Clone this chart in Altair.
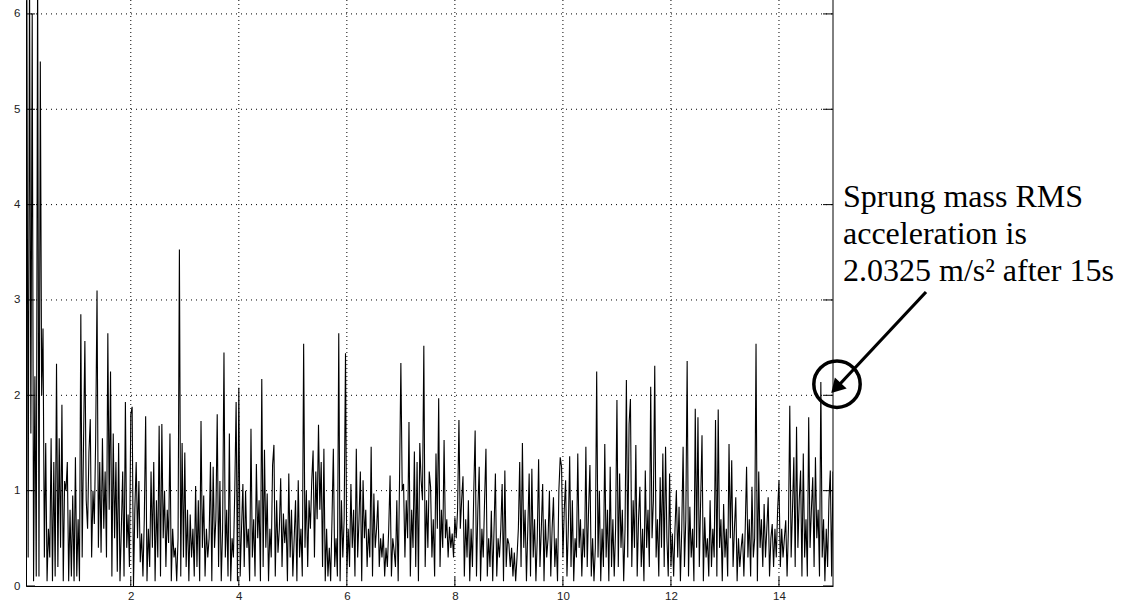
import altair as alt
import pandas as pd

alt.data_transformers.disable_max_rows()

# ---- data: sprung mass acceleration (m/s^2), sampled every 0.025 s ----
DT = 0.025
y_00 = [2.0, 6.5, 0.3, 6.5, 1.6, 6.0, 0.05, 2.2, 0.1, 6.5, 0.1, 5.5, 2.0, 2.7, 0.3, 1.5, 0.05, 0.6, 0.3, 1.55,
        0.05, 1.3, 0.1, 2.33, 0.2, 1.55, 0.4, 1.9, 0.05, 1.1, 1.0, 1.3, 0.05, 0.8, 0.1, 0.95, 0.05, 1.35]
y_01 = [0.1, 0.7, 0.05, 2.85, 0.3, 1.5, 2.57, 0.9, 0.6, 1.4, 1.75, 0.3, 1.0, 0.65, 1.55, 3.1, 0.4, 1.3, 0.35, 1.55,
        0.6, 1.2, 0.3, 2.65, 0.8, 2.25, 0.1, 1.6, 0.5, 1.3, 0.15, 1.5, 0.05, 0.6, 1.2, 0.1, 1.93, 0.4, 0.75, 0.2]
y_02 = [1.8, 1.88, 0.0, 0.8, 1.3, 0.5, 1.1, 0.25, 0.55, 0.1, 0.7, 1.78, 0.05, 0.6, 0.2, 1.2, 0.4, 1.3, 0.05, 0.9,
        0.3, 1.68, 0.1, 1.7, 0.5, 1.0, 0.2, 0.8, 0.45, 1.6, 0.05, 0.6, 0.3, 0.4, 0.05, 0.5, 3.53, 0.1, 1.5, 0.3]
y_03 = [1.4, 0.2, 0.8, 0.05, 0.75, 0.3, 0.6, 0.1, 1.05, 0.2, 0.9, 0.05, 1.73, 0.4, 0.95, 0.1, 0.6, 0.3, 0.5, 1.3,
        0.05, 1.25, 0.4, 0.7, 1.8, 0.2, 1.1, 0.05, 0.6, 2.45, 0.3, 0.8, 0.1, 1.6, 0.05, 0.5, 0.3, 1.0, 1.93, 0.05]
y_04 = [2.08, 0.1, 0.6, 1.07, 0.2, 1.0, 0.4, 0.6, 0.05, 1.65, 0.3, 0.7, 0.1, 1.28, 0.5, 0.9, 0.05, 2.17, 0.2, 1.43,
        0.4, 0.97, 0.05, 0.6, 0.3, 1.27, 1.48, 0.1, 0.9, 0.35, 0.6, 1.13, 0.2, 0.76, 0.45, 0.7, 0.05, 1.18, 0.3, 0.8]
y_05 = [0.1, 0.5, 0.9, 0.05, 1.11, 0.3, 0.6, 0.1, 2.54, 0.4, 1.0, 0.2, 0.9, 0.6, 1.1, 1.42, 0.3, 1.2, 0.7, 1.69,
        0.8, 1.3, 0.2, 1.44, 0.05, 0.6, 0.1, 0.4, 0.05, 0.7, 1.44, 0.2, 0.5, 0.1, 2.65, 0.05, 0.9, 0.3, 0.7, 2.44]
y_06 = [0.1, 0.6, 0.2, 1.07, 0.4, 0.8, 0.1, 1.44, 0.3, 0.7, 1.2, 0.05, 1.11, 0.5, 0.8, 0.2, 0.6, 0.3, 1.46, 0.1,
        0.97, 0.4, 0.6, 0.9, 0.2, 0.5, 0.3, 0.55, 0.1, 0.4, 0.2, 0.6, 1.16, 0.1, 0.5, 0.37, 0.2, 0.9, 0.05, 1.1]
y_07 = [2.34, 1.0, 1.07, 0.3, 0.9, 0.5, 1.72, 0.1, 0.8, 0.4, 1.41, 0.2, 1.3, 0.05, 1.5, 1.11, 0.9, 2.52, 0.2, 0.9,
        0.4, 1.2, 1.04, 0.3, 0.7, 0.1, 1.39, 0.6, 1.97, 0.2, 0.8, 0.4, 1.53, 0.5, 0.7, 0.3, 0.62, 0.4, 0.55, 0.3]
y_08 = [0.72, 0.5, 0.8, 1.74, 0.6, 0.9, 1.15, 0.1, 0.7, 0.3, 0.9, 0.05, 0.6, 0.2, 1.0, 1.63, 0.1, 0.8, 1.25, 0.05,
        0.6, 0.3, 0.9, 1.44, 0.1, 0.5, 0.2, 0.79, 0.05, 0.6, 1.18, 0.1, 0.5, 0.3, 0.6, 1.07, 0.05, 1.21, 0.2, 0.5]
y_09 = [0.44, 0.2, 0.4, 0.1, 0.35, 0.05, 0.3, 0.6, 1.3, 0.2, 1.5, 0.4, 0.8, 0.05, 0.6, 1.18, 0.1, 1.23, 0.3, 0.7,
        0.05, 0.5, 1.33, 0.2, 0.6, 1.07, 0.05, 0.7, 0.3, 0.5, 1.0, 0.1, 0.6, 0.93, 0.2, 0.5, 0.05, 1.0, 1.35, 1.25]
y_10 = [0.3, 0.8, 1.11, 0.1, 0.6, 1.36, 0.2, 0.9, 0.05, 0.5, 0.3, 1.39, 0.4, 0.7, 0.1, 0.6, 0.3, 1.46, 0.2, 0.8,
        1.27, 0.1, 0.5, 0.05, 0.4, 2.25, 0.3, 1.0, 0.05, 0.6, 0.2, 1.49, 0.3, 0.8, 0.05, 1.25, 0.2, 0.7, 0.1, 0.6]
y_11 = [1.95, 0.2, 1.18, 0.4, 0.8, 0.05, 0.6, 2.16, 0.3, 1.7, 1.96, 0.2, 0.9, 0.4, 1.48, 0.1, 0.7, 1.04, 0.2, 0.6,
        0.05, 1.21, 0.4, 0.8, 0.2, 2.09, 0.5, 0.9, 2.31, 0.3, 0.7, 0.1, 1.14, 0.4, 1.39, 0.2, 1.46, 0.5, 0.1, 1.18]
y_12 = [0.2, 0.55, 0.1, 0.6, 1.0, 0.3, 0.83, 0.05, 0.6, 1.46, 0.2, 0.7, 2.36, 0.1, 0.83, 0.3, 0.6, 0.05, 1.86, 0.4,
        1.77, 0.2, 0.9, 1.58, 0.05, 0.72, 0.3, 0.5, 0.1, 0.9, 0.2, 0.6, 0.3, 1.74, 0.1, 1.85, 0.4, 0.7, 0.05, 0.86]
y_13 = [0.3, 0.6, 0.1, 1.49, 0.5, 1.32, 0.2, 0.6, 0.93, 0.05, 0.5, 0.2, 0.4, 0.55, 0.1, 0.6, 1.25, 0.3, 0.7, 0.1,
        1.04, 0.3, 0.5, 2.54, 0.05, 1.2, 0.4, 0.7, 0.2, 0.86, 0.3, 0.6, 0.93, 0.1, 0.5, 0.65, 0.2, 0.6, 0.3, 0.8]
y_14 = [1.11, 0.2, 0.6, 0.3, 0.5, 0.69, 0.1, 0.6, 1.89, 0.3, 0.8, 1.35, 0.2, 1.67, 0.4, 0.9, 1.21, 0.1, 1.39, 0.3,
        0.7, 0.1, 1.77, 0.4, 0.8, 1.14, 0.2, 1.35, 0.5, 0.8, 0.1, 2.14, 0.3, 0.7, 0.05, 0.6, 0.2, 0.9, 1.21, 0.1, 1.2]

segments = [(0.05, y_00), (1.0, y_01), (2.0, y_02), (3.0, y_03), (4.0, y_04), (5.0, y_05),
            (6.0, y_06), (7.0, y_07), (8.0, y_08), (9.0, y_09), (10.0, y_10), (11.0, y_11),
            (12.0, y_12), (13.0, y_13), (14.0, y_14)]

x_ticks = [2, 4, 6, 8, 10, 12, 14]
y_ticks = [0, 1, 2, 3, 4, 5, 6]

rms_time = 15.0
rms_value = 2.0325
note_lines = ["Sprung mass RMS", "acceleration is", "2.0325 m/s\u00b2 after 15s"]
note_baselines = [207, 244, 281]

rows = []
for start, vals in segments:
    for j, v in enumerate(vals):
        rows.append({"t": round(start + DT * j, 4), "v": v})
df = pd.DataFrame(rows)

W, H = 807, 586
XD = [0.06, 15.0]
YD = [0, 6.146]
FONT = "Liberation Sans"

xs = alt.Scale(domain=XD, nice=False, zero=False)
ys = alt.Scale(domain=YD, nice=False, zero=True)

grid_x = alt.Chart(pd.DataFrame({"t": x_ticks})).mark_rule(
    color="black", strokeWidth=1, strokeDash=[1, 3]
).encode(x=alt.X("t:Q", scale=xs), y=alt.value(0), y2=alt.value(H))

grid_y = alt.Chart(pd.DataFrame({"v": [1, 2, 3, 4, 5, 6]})).mark_rule(
    color="black", strokeWidth=1, strokeDash=[1, 4]
).encode(y=alt.Y("v:Q", scale=ys), x=alt.value(0), x2=alt.value(W))

line = alt.Chart(df).mark_line(
    color="black", strokeWidth=1.1, clip=True, interpolate="linear"
).encode(
    x=alt.X("t:Q", scale=xs,
            axis=alt.Axis(values=x_ticks, format="d", grid=False, ticks=False, domain=True,
                          domainColor="black", labelFont=FONT, labelFontSize=11.5, labelColor="#222",
                          labelPadding=4, title=None)),
    y=alt.Y("v:Q", scale=ys,
            axis=alt.Axis(values=y_ticks, format="d", grid=False, ticks=False, domain=True,
                          domainColor="black", labelFont=FONT, labelFontSize=11.5, labelColor="#222",
                          labelPadding=6, title=None)),
)

right_edge = alt.Chart(pd.DataFrame({"a": [0]})).mark_rule(color="black", strokeWidth=1).encode(
    x=alt.value(W), y=alt.value(0), y2=alt.value(H))

tick_df = pd.DataFrame({"v": y_ticks})
ticks_left = alt.Chart(tick_df).mark_rule(color="black").encode(
    y=alt.Y("v:Q", scale=ys), x=alt.value(0), x2=alt.value(9))
ticks_right = alt.Chart(tick_df).mark_rule(color="black").encode(
    y=alt.Y("v:Q", scale=ys), x=alt.value(W - 10), x2=alt.value(W))
ticks_bottom = alt.Chart(pd.DataFrame({"t": x_ticks})).mark_rule(color="black").encode(
    x=alt.X("t:Q", scale=xs), y=alt.value(H - 9), y2=alt.value(H))

# annotation
ann_df = pd.DataFrame({"t": [rms_time], "v": [rms_value]})
ellipse = alt.Chart(ann_df).mark_point(
    shape="circle", filled=False, color="black", strokeWidth=3.5, size=2150, clip=False,
    opacity=1, xOffset=4, yOffset=-8
).encode(x=alt.X("t:Q", scale=xs), y=alt.Y("v:Q", scale=ys))

arrow_shaft = alt.Chart(ann_df).mark_rule(color="black", strokeWidth=3.2).encode(
    x=alt.value(900), y=alt.value(292), x2=alt.value(813), y2=alt.value(385))
arrow_head = alt.Chart(ann_df).mark_point(
    shape="triangle-up", filled=True, color="black", size=260, angle=223, opacity=1, clip=False
).encode(x=alt.value(810), y=alt.value(388))

notes = [
    alt.Chart(pd.DataFrame({"line": [txt]})).mark_text(
        font="Liberation Serif", fontSize=32, align="left", baseline="alphabetic", color="black",
        clip=False
    ).encode(text="line:N", x=alt.value(817), y=alt.value(by))
    for txt, by in zip(note_lines, note_baselines)
]

chart = alt.layer(
    grid_x, grid_y, line, right_edge, ticks_left, ticks_right, ticks_bottom,
    ellipse, arrow_shaft, arrow_head, *notes
).properties(
    width=W, height=H,
    autosize=alt.AutoSizeParams(type="none"),
    padding={"left": 26, "top": 0, "right": 295, "bottom": 18},
    background="white",
).configure_view(stroke=None)

chart.save("out.html", embed_options={"renderer": "svg", "actions": False})
